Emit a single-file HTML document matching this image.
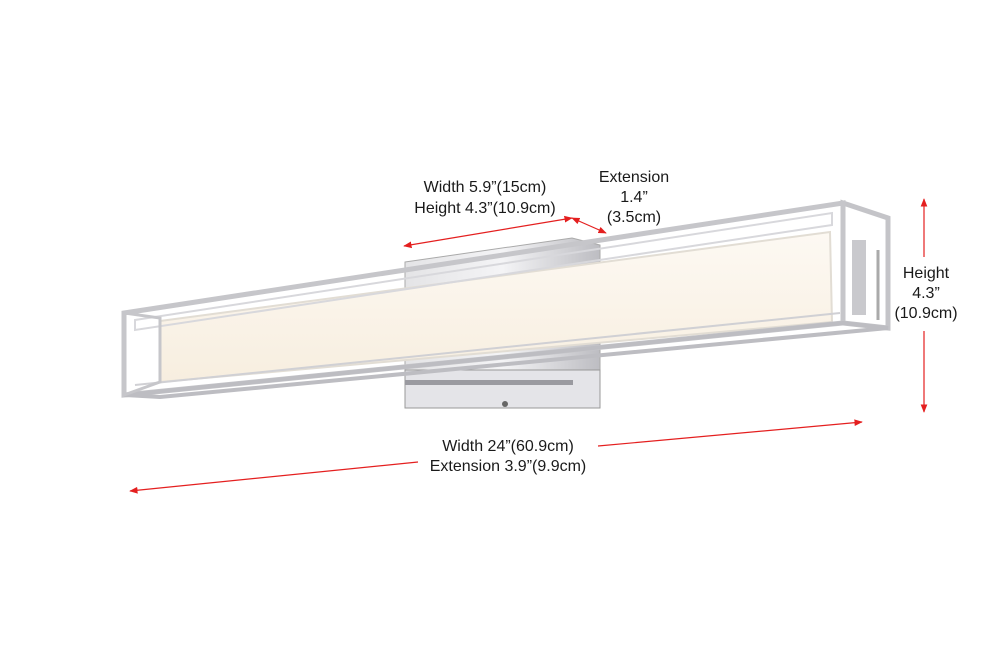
<!DOCTYPE html>
<html><head><meta charset="utf-8"><style>
html,body{margin:0;padding:0;background:#fff;width:1000px;height:667px;overflow:hidden}
svg{display:block}
text{font-family:"Liberation Sans",sans-serif;font-size:16px;fill:#1a1a1a}
</style></head><body>
<svg width="1000" height="667" viewBox="0 0 1000 667">
<defs>
<linearGradient id="lp" x1="0" y1="0" x2="0" y2="1"><stop offset="0" stop-color="#fdf9f3"/><stop offset="1" stop-color="#f7eedf"/></linearGradient>
<linearGradient id="bp" x1="0" y1="0" x2="1" y2="0"><stop offset="0" stop-color="#e4e4e6"/><stop offset="0.5" stop-color="#f4f4f6"/><stop offset="1" stop-color="#bdbdc2"/></linearGradient>
<marker id="ar" viewBox="0 0 10 10" refX="9" refY="5" markerWidth="7" markerHeight="7" orient="auto-start-reverse"><path d="M0,1 L10,5 L0,9 z" fill="#e41f1f"/></marker>
</defs>
<polygon points="405,262 572,238 600,245 600,400 405,408" fill="url(#bp)" stroke="#aaa" stroke-width="1"/>
<rect x="405" y="370" width="195" height="38" fill="#e4e4e8" stroke="#999" stroke-width="1"/>
<rect x="405" y="380" width="168" height="5" fill="#9a9aa0"/>
<circle cx="505" cy="404" r="3" fill="#666"/>
<polygon points="843,203 888,218 888,328 843,323" fill="none" stroke="#c4c4c8" stroke-width="5"/>
<rect x="852" y="240" width="14" height="75" fill="#c9c9cd"/>
<line x1="878" y1="250" x2="878" y2="320" stroke="#aaa" stroke-width="3"/>
<polygon points="160,321 830,232 832,322 160,382" fill="url(#lp)" stroke="#e2ddd4" stroke-width="2"/>
<polygon points="124,313 843,203 843,323 124,395" fill="none" stroke="#c6c6ca" stroke-width="5"/>
<polygon points="135,320 832,213 832,225 135,330" fill="none" stroke="#d8d8dc" stroke-width="2"/>
<polygon points="124,395 160,397 888,328 843,323" fill="none" stroke="#bdbdc2" stroke-width="4"/>
<line x1="135" y1="385" x2="840" y2="313" stroke="#d0d0d4" stroke-width="2"/>
<polygon points="124,313 160,318 160,382 124,395" fill="none" stroke="#c6c6ca" stroke-width="3"/>
<line x1="404" y1="246" x2="572" y2="218" stroke="#e41f1f" stroke-width="1.2" marker-start="url(#ar)" marker-end="url(#ar)"/>
<line x1="572" y1="218" x2="606" y2="233" stroke="#e41f1f" stroke-width="1.2" marker-start="url(#ar)" marker-end="url(#ar)"/>
<line x1="924" y1="199" x2="924" y2="257" stroke="#e41f1f" stroke-width="1.2" marker-start="url(#ar)"/>
<line x1="924" y1="331" x2="924" y2="412" stroke="#e41f1f" stroke-width="1.2" marker-end="url(#ar)"/>
<line x1="130" y1="491" x2="418" y2="462" stroke="#e41f1f" stroke-width="1.2" marker-start="url(#ar)"/>
<line x1="598" y1="446" x2="862" y2="422" stroke="#e41f1f" stroke-width="1.2" marker-end="url(#ar)"/>
<text x="485" y="192" text-anchor="middle">Width 5.9”(15cm)</text>
<text x="485" y="213" text-anchor="middle">Height 4.3”(10.9cm)</text>
<text x="634" y="182" text-anchor="middle">Extension</text>
<text x="634" y="202" text-anchor="middle">1.4”</text>
<text x="634" y="222" text-anchor="middle">(3.5cm)</text>
<text x="926" y="278" text-anchor="middle">Height</text>
<text x="926" y="298" text-anchor="middle">4.3”</text>
<text x="926" y="318" text-anchor="middle">(10.9cm)</text>
<text x="508" y="451" text-anchor="middle">Width 24”(60.9cm)</text>
<text x="508" y="471" text-anchor="middle">Extension 3.9”(9.9cm)</text>
</svg>
</body></html>
